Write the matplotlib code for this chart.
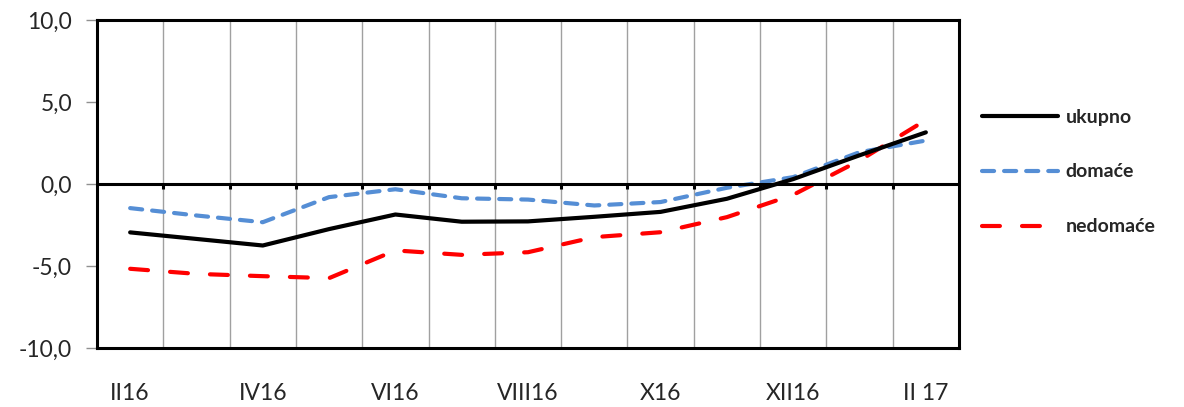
import matplotlib
matplotlib.use("Agg")
import matplotlib.pyplot as plt
import numpy as np

months = ["II16", "III16", "IV16", "V16", "VI16", "VII16", "VIII16",
          "IX16", "X16", "XI16", "XII16", "I17", "II 17"]
ukupno = [-2.95, -3.35, -3.75, -2.75, -1.86, -2.3, -2.28, -2.0, -1.7, -0.9, 0.3, 1.75, 3.15]
domace = [-1.47, -1.92, -2.33, -0.8, -0.32, -0.87, -0.95, -1.31, -1.1, -0.23, 0.42, 1.94, 2.65]
nedomace = [-5.17, -5.48, -5.62, -5.74, -4.05, -4.32, -4.16, -3.24, -2.94, -2.02, -0.66, 1.43, 3.9]
shown_labels = ["II16", "IV16", "VI16", "VIII16", "X16", "XII16", "II 17"]

plt.rcParams['font.family'] = ['Lato', 'DejaVu Sans']

W, H = 1184, 407
fig = plt.figure(figsize=(W / 100, H / 100), dpi=100)
ax = fig.add_axes([97/W, 1 - 348/H, (959-97)/W, (348-20)/H])

x = np.arange(len(months))
ax.plot(x, ukupno, color='black', lw=3.0, solid_joinstyle='round', solid_capstyle='round',
        label='ukupno', zorder=5)
ax.plot(x, domace, color='#558ED5', lw=3.0, linestyle=(0, (2.9, 2.4)), dash_capstyle='round',
        label='domaće', zorder=4)
ax.plot(x, nedomace, color='#FF0000', lw=3.0, linestyle=(0, (4.3, 5.3)), dash_capstyle='round',
        label='nedomaće', zorder=3)

ax.set_xlim(-0.5, len(months) - 0.5)
ax.set_ylim(-10, 10)

# vertical grid at category boundaries
bounds = np.arange(len(months) + 1) - 0.5
for b in bounds[1:-1]:
    ax.axvline(b, color='#A0A0A0', lw=1.0, zorder=1)
ax.axhline(0, color='black', lw=2.2, zorder=6)
ax.vlines(bounds[1:-1], -0.3, 0, color='black', lw=2.2, zorder=6)

ax.set_yticks([-10, -5, 0, 5, 10])
ax.set_yticklabels(["-10,0", "-5,0", "0,0", "5,0", "10,0"], fontsize=16.5, color='#262626')
ax.tick_params(axis='y', length=8, width=1, color='#909090', pad=10)

pos = [months.index(l) for l in shown_labels]
ax.set_xticks(pos)
ax.set_xticklabels(shown_labels, fontsize=16.5, color='#262626')
ax.tick_params(axis='x', length=0, pad=25)

for s in ax.spines.values():
    s.set_linewidth(2.2)
    s.set_color('black')

leg = fig.legend(loc='center left', bbox_to_anchor=(982/W, 1 - 172/H), frameon=False,
                 fontsize=14, handlelength=3.9, handletextpad=0.4, labelspacing=1.95,
                 borderpad=0, borderaxespad=0)
for t in leg.get_texts():
    t.set_fontweight('bold')
    t.set_color('#262626')

fig.savefig("out.png", dpi=100)
